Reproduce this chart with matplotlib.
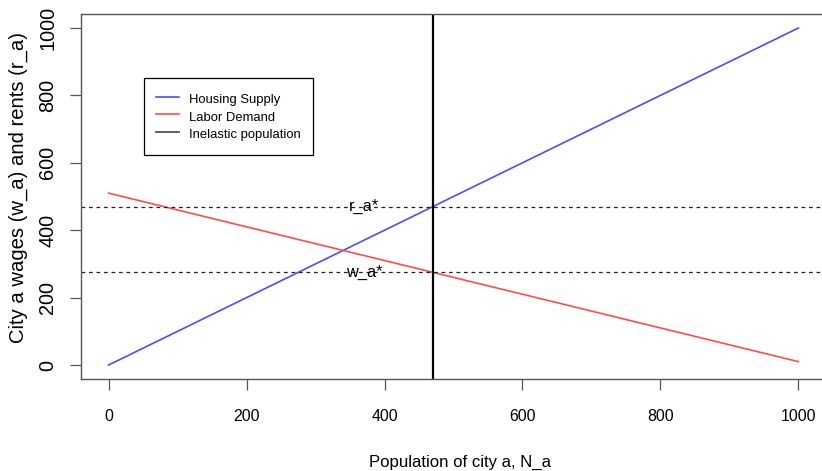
import matplotlib
matplotlib.use("Agg")
import matplotlib.pyplot as plt

plt.rcParams['font.family'] = ['Liberation Sans', 'DejaVu Sans']

# Data
population = [0, 1000]
housing_supply = [0, 1000]
labor_demand = [510, 10]
inelastic_pop = 470
r_star = 470
w_star = 275
xticks = [0, 200, 400, 600, 800, 1000]
yticks = [0, 200, 400, 600, 800, 1000]
legend_labels = ["Housing Supply", "Labor Demand", "Inelastic population"]

W, H = 822, 471
fig = plt.figure(figsize=(W / 100, H / 100), dpi=100)
L, R, T, B = 81, 826, 14.5, 378.5
ax = fig.add_axes([L / W, (H - B) / H, (R - L) / W, (B - T) / H])

blue = '#4d4dff'
red = '#ff4d4d'

ax.plot(population, housing_supply, color=blue, lw=1.2, label=legend_labels[0])
ax.plot(population, labor_demand, color=red, lw=1.2, label=legend_labels[1])
ax.axvline(inelastic_pop, color='black', lw=1.6)
ax.axhline(r_star, color='#222222', lw=0.9, linestyle=(0, (3, 3)))
ax.axhline(w_star, color='#222222', lw=0.9, linestyle=(0, (3, 3)))
ax.text(370, r_star, "r_a*", ha='center', va='center', fontsize=11.8)
ax.text(370, w_star, "w_a*", ha='center', va='center', fontsize=11.8)

ax.plot([], [], color='#444444', lw=1.2, label=legend_labels[2])

ax.set_xlim(-40, 1040)
ax.set_ylim(-40, 1040)
ax.set_xticks(xticks)
ax.set_yticks(yticks)
ax.tick_params(axis='both', length=8, width=0.9, color='#555555')
ax.tick_params(axis='x', pad=14, labelsize=11.4)
ax.tick_params(axis='y', pad=9, labelsize=14.3)
for lab in ax.get_yticklabels():
    lab.set_rotation(90)
    lab.set_va('center')

for s in ax.spines.values():
    s.set_color('#555555')
    s.set_linewidth(1.0)

ax.set_xlabel("Population of city a, N_a", fontsize=12.1, va='center')
ax.xaxis.set_label_coords((460 - L) / (R - L), (B - 462) / (B - T))
ax.set_ylabel("City a wages (w_a) and rents (r_a)", fontsize=14.6, va='center')
ax.yaxis.set_label_coords((18 - L) / (R - L), (B - 187.5) / (B - T))

fs = 9.4
leg = ax.legend(loc='upper left',
                bbox_to_anchor=((144 - L) / (R - L), (B - 78) / (B - T)),
                borderaxespad=0, fancybox=False, frameon=True,
                fontsize=fs, handlelength=1.7, handletextpad=0.8,
                handleheight=1.69, labelspacing=0.0, borderpad=0.95)
leg.get_frame().set_edgecolor('black')
leg.get_frame().set_linewidth(0.9)
leg.get_frame().set_alpha(1)

fig.savefig("out.png", dpi=100)
